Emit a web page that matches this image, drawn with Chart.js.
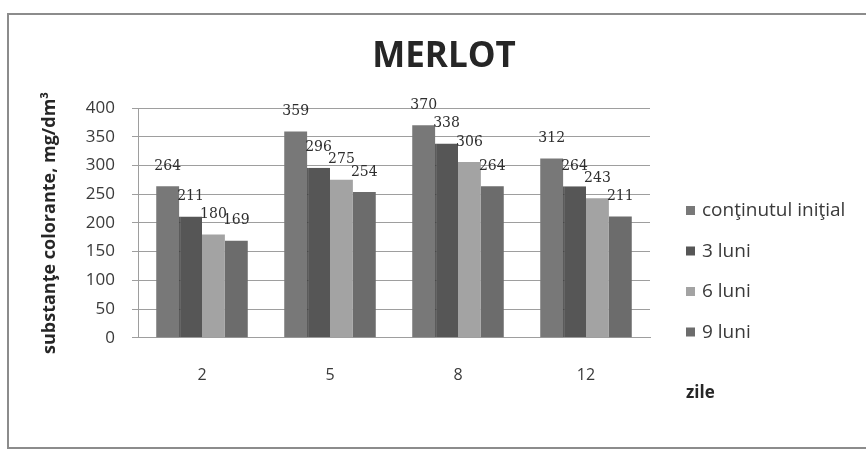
<!DOCTYPE html>
<html>
<head>
<meta charset="utf-8">
<script src="https://cdn.jsdelivr.net/npm/chart.js@4"></script>
<style>
  body { margin: 0; background: #fff; }
  canvas { display: block; }
</style>
</head>
<body>
<canvas id="myChart" width="866" height="450"></canvas>
<script>
var zile = ['2', '5', '8', '12'];
var initial = [264, 359, 370, 312];
var luni3 = [211, 296, 338, 264];
var luni6 = [180, 275, 306, 243];
var luni9 = [169, 254, 264, 211];
var yTicks = [0, 50, 100, 150, 200, 250, 300, 350, 400];

var gridColor = "#9e9e9e";
var textColor = "#3a3a3a";

// frame around the whole figure + the title
var frame = {
  id: "frame",
  beforeDraw: function(chart) {
    var ctx = chart.ctx;
    ctx.save();
    ctx.fillStyle = "#fff";
    ctx.fillRect(0, 0, chart.width, chart.height);
    ctx.strokeStyle = "#8c8c8c";
    ctx.lineWidth = 2;
    ctx.strokeRect(8, 14, chart.width + 10, chart.height - 16);
    ctx.font = "bold 35px 'Open Sans'";
    ctx.fillStyle = "#262626";
    ctx.textAlign = "center";
    ctx.textBaseline = "middle";
    ctx.fillText("MERLOT", 444, 57);
    ctx.restore();
  }
};

// numbers above the bars
var valori = {
  id: "valori",
  afterDatasetsDraw: function(chart) {
    var ctx = chart.ctx;
    ctx.save();
    ctx.font = "14px 'DejaVu Serif'";
    ctx.fillStyle = "#2e2e2e";
    ctx.textAlign = "center";
    ctx.textBaseline = "middle";
    chart.data.datasets.forEach(function(ds, i) {
      chart.getDatasetMeta(i).data.forEach(function(bar, j) {
        ctx.fillText(ds.data[j], bar.x, bar.y - 20);
      });
    });
    ctx.restore();
  }
};

// legend on the right and the "zile" axis name
var legenda = {
  id: "legenda",
  afterDraw: function(chart) {
    var ctx = chart.ctx;
    ctx.save();
    ctx.textBaseline = "middle";
    ctx.font = "19px 'Open Sans'";
    chart.data.datasets.forEach(function(ds, i) {
      var y = 211 + i * 40.5;
      ctx.fillStyle = ds.backgroundColor;
      ctx.fillRect(686, y - 5, 9, 9);
      ctx.fillStyle = textColor;
      ctx.fillText(ds.label, 702, y);
    });
    ctx.font = "bold 17px 'Open Sans'";
    ctx.fillStyle = "#262626";
    ctx.fillText("zile", 686, 393);
    ctx.restore();
  }
};

new Chart("myChart", {
  type: "bar",
  data: {
    labels: zile,
    datasets: [{
      label: "conţinutul iniţial",
      data: initial,
      backgroundColor: "#787878"
    }, {
      label: "3 luni",
      data: luni3,
      backgroundColor: "#565656",
      borderColor: "#2a2a2a",
      borderWidth: {left: 1, top: 0, right: 0, bottom: 0}
    }, {
      label: "6 luni",
      data: luni6,
      backgroundColor: "#a3a3a3"
    }, {
      label: "9 luni",
      data: luni9,
      backgroundColor: "#6c6c6c"
    }]
  },
  options: {
    responsive: false,
    animation: false,
    layout: {
      padding: {left: 39, right: 216, top: 108, bottom: 45}
    },
    datasets: {
      bar: {categoryPercentage: 0.715, barPercentage: 1}
    },
    plugins: {
      legend: {display: false},
      tooltip: {enabled: false},
      title: {display: false}
    },
    scales: {
      x: {
        grid: {display: false},
        border: {display: true, color: gridColor},
        ticks: {
          color: textColor,
          padding: 20,
          font: {family: "'Open Sans'", size: 16}
        }
      },
      y: {
        min: 0,
        max: 400,
        afterFit: function(scale) { scale.width = 99; },
        afterBuildTicks: function(scale) {
          scale.ticks = yTicks.map(function(v) { return {value: v}; });
        },
        grid: {color: gridColor, tickLength: 6},
        border: {display: true, color: gridColor},
        ticks: {
          color: textColor,
          padding: 17,
          font: {family: "'Open Sans'", size: 17}
        },
        title: {
          display: true,
          text: "substanţe colorante, mg/dm³",
          color: "#262626",
          padding: 0,
          font: {family: "'Open Sans'", size: 18, weight: "bold"}
        }
      }
    }
  },
  plugins: [frame, valori, legenda]
});
</script>
</body>
</html>
